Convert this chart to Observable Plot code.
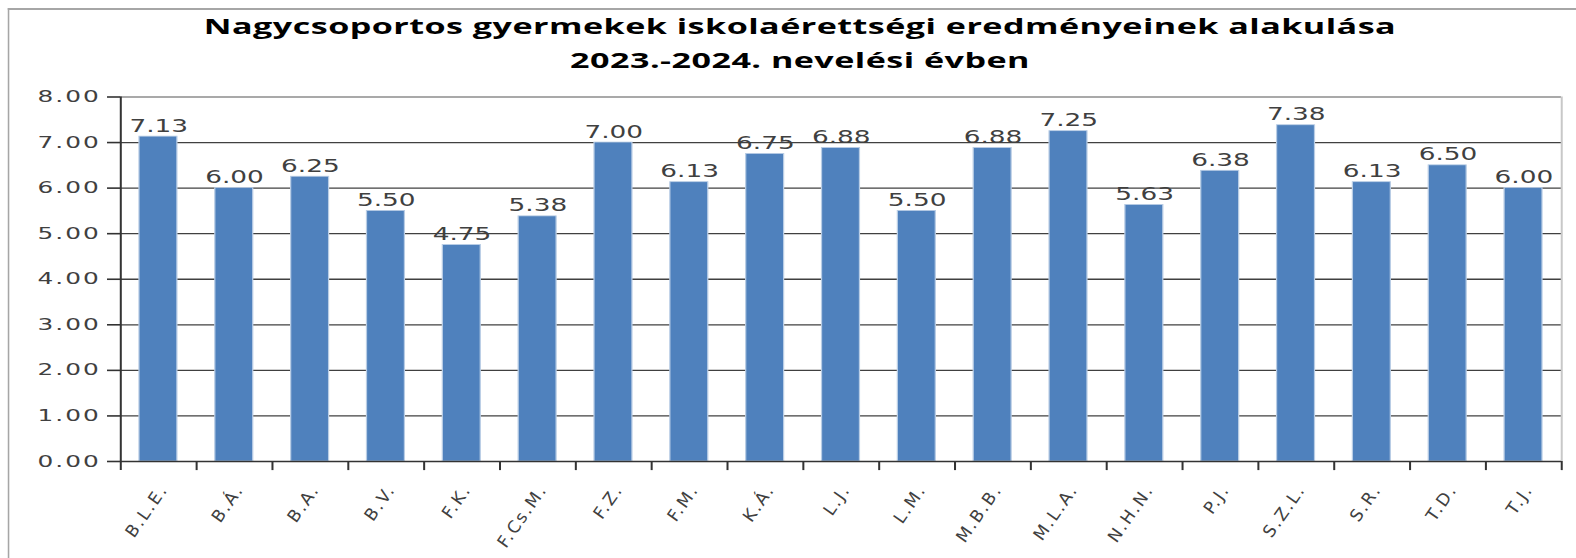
<!DOCTYPE html>
<html><head><meta charset="utf-8">
<script src="https://cdn.jsdelivr.net/npm/d3@7"></script>
<script src="https://cdn.jsdelivr.net/npm/@observablehq/plot@0.6"></script>
<style>
html,body{margin:0;padding:0;background:#fff;overflow:hidden;width:1576px;height:558px}
#wrap{position:absolute;left:0;top:0;height:558px;transform-origin:0 0}
#frame{position:absolute;top:8px;height:600px;border-left:1.3px solid #a6a6a6;border-top:2px solid #a6a6a6}
.t{position:absolute;left:0;text-align:center;font-family:"Open Sans",sans-serif;font-weight:bold;font-size:22px;letter-spacing:0.3px;line-height:34px;color:#000;white-space:nowrap}
#chart{position:absolute;left:0;top:80px}
#labels{position:absolute;left:0;top:80px}
</style></head><body><div id="wrap"><div id="frame"></div><div class="t" id="title"></div><div id="chart"></div></div><div id="labels"></div>
<script>
const titleLines = ["Nagycsoportos gyermekek iskolaérettségi eredményeinek alakulása", "2023.-2024. nevelési évben"];
const categories = ["B.L.E.", "B.Á.", "B.A.", "B.V.", "F.K.", "F.Cs.M.", "F.Z.", "F.M.", "K.Á.", "L.J.", "L.M.", "M.B.B.", "M.L.A.", "N.H.N.", "P.J.", "S.Z.L.", "S.R.", "T.D.", "T.J."];
const values = [7.13, 6.00, 6.25, 5.50, 4.75, 5.38, 7.00, 6.13, 6.75, 6.88, 5.50, 6.88, 7.25, 5.63, 6.38, 7.38, 6.13, 6.50, 6.00];
const yTicks = [0, 1, 2, 3, 4, 5, 6, 7, 8];

const S = 1.55;
const W0 = 1576 / S;
const mL = 120 / S, mR = 15 / S;
const step = (W0 - mL - mR) / categories.length;
const data = categories.map((c, i) => ({name: c, value: values[i]}));
const last = categories[categories.length - 1];

const wrap = document.getElementById("wrap");
wrap.style.width = W0 + "px";
wrap.style.transform = `scaleX(${S})`;
const frame = document.getElementById("frame");
frame.style.left = (7 / S) + "px";
frame.style.width = (W0 + 20) + "px";
const title = document.getElementById("title");
title.style.top = "7.8px";
title.style.width = (2 * 800 / S) + "px";
title.innerHTML = titleLines.join("<br>");

const xBand = {type: "band", domain: categories, paddingInner: 0.5, paddingOuter: 0.25, round: false, label: null, axis: null};

const plot = Plot.plot({
  width: W0,
  height: 478,
  marginTop: 16.5,
  marginBottom: 97,
  marginLeft: mL,
  marginRight: mR,
  style: {background: "transparent", overflow: "visible"},
  x: xBand,
  y: {domain: [0, 8], ticks: yTicks, label: null},
  marks: [
    Plot.ruleY(yTicks.filter(d => d > 0 && d < 8), {stroke: "#404040", strokeWidth: 1.3}),
    Plot.ruleY([8], {stroke: "#8c8c8c", strokeWidth: 1.3}),
    Plot.ruleX([last], {dx: step / 2, y1: 0, y2: 8, stroke: "#c8c8c8", strokeWidth: 1.3}),
    Plot.barY(data, {x: "name", y: "value", fill: "#4f81bd", stroke: "#b9cde5", strokeWidth: 0.8}),
    Plot.ruleY([0], {stroke: "#333", strokeWidth: 1.6}),
    Plot.ruleX([categories[0]], {dx: -step / 2, y1: -0.2, y2: 8, stroke: "#333", strokeWidth: 1.3}),
    Plot.ruleX(categories.slice(1), {dx: -step / 2, y1: -0.2, y2: 0, stroke: "#333", strokeWidth: 1.3}),
    Plot.ruleX([last], {dx: step / 2, y1: -0.2, y2: 0, stroke: "#333", strokeWidth: 1.3}),
    Plot.axisY(yTicks, {tickSize: 13 / S, tickPadding: 4.5, tickFormat: d => d.toFixed(2), fontSize: 16, fontFamily: "DejaVu Sans", color: "#404040", stroke: "#333", strokeWidth: 1.6, label: null}),
    Plot.text(data, {x: "name", y: "value", text: d => d.value.toFixed(2), dy: -5, lineAnchor: "bottom", fontSize: 17, fontFamily: "DejaVu Sans", fill: "#404040"})
  ]
});
d3.select(plot).selectAll("[aria-label='y-axis tick label'] text").style("letter-spacing", "1.3px");
document.getElementById("chart").appendChild(plot);

// category labels: drawn unstretched, on the same band scale
const labelPlot = Plot.plot({
  width: 1576,
  height: 478,
  marginTop: 16.5,
  marginBottom: 97,
  marginLeft: 120,
  marginRight: 15,
  style: {background: "transparent", overflow: "visible"},
  x: xBand,
  y: {domain: [0, 8], axis: null},
  marks: [
    Plot.text(categories, {x: d => d, y: () => 0, text: d => d, rotate: -55, textAnchor: "end", lineAnchor: "bottom", dx: 10, dy: 28, fontSize: 17, fontFamily: "DejaVu Sans", fill: "#404040"})
  ]
});
d3.select(labelPlot).selectAll("g[aria-label='text'] text").style("letter-spacing", "2px");
document.getElementById("labels").appendChild(labelPlot);
</script>
</body></html>
